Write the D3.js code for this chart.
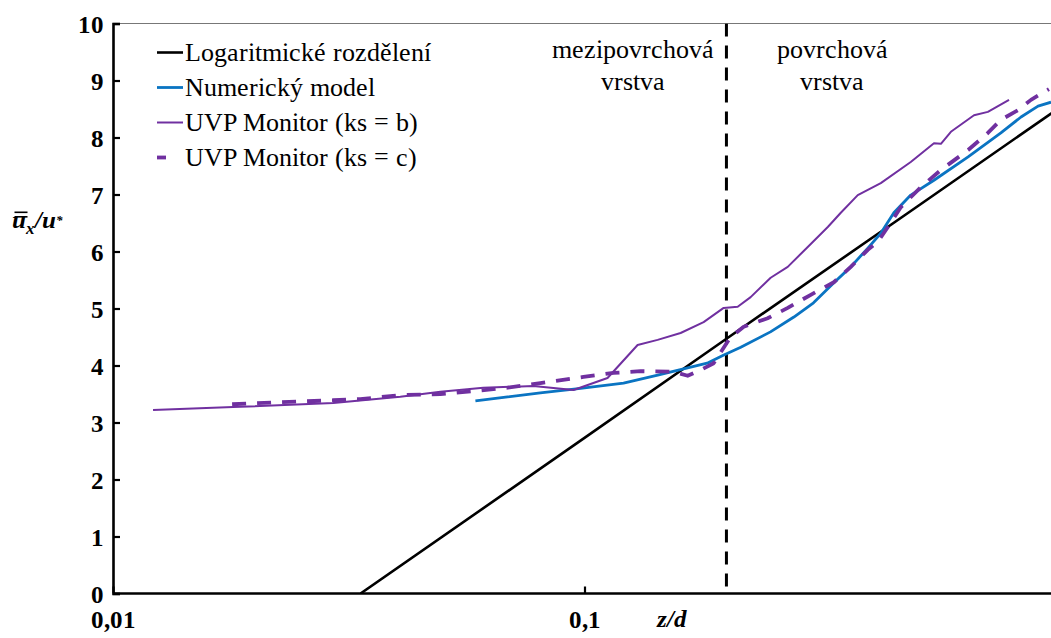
<!DOCTYPE html>
<html>
<head>
<meta charset="utf-8">
<script src="https://cdn.jsdelivr.net/npm/d3@7"></script>
<style>
  @font-face { font-family: "ChartSerif"; font-weight: 400; src: local("Liberation Serif"), local("LiberationSerif"); }
  @font-face { font-family: "ChartSerif"; font-weight: 700; src: local("Liberation Serif Bold"), local("LiberationSerif-Bold"); }
  @font-face { font-family: "ChartSerif"; font-weight: 700; font-style: italic; src: local("Liberation Serif Bold Italic"), local("LiberationSerif-BoldItalic"); }
  html, body { margin: 0; padding: 0; background: #fff; }
  svg { display: block; }
</style>
</head>
<body>
<svg id="chart" width="1051" height="638"></svg>
<script>
const logZ = [0.0335, 0.1, 0.2, 0.5, 1.0];
const logU = [0.0, 2.73, 4.47, 6.75, 8.48];

const numZ = [0.0587, 0.0687, 0.0806, 0.0981, 0.121, 0.143, 0.168, 0.182, 0.197, 0.2145,
              0.248, 0.278, 0.306, 0.338, 0.367, 0.399, 0.425, 0.453, 0.492, 0.551,
              0.651, 0.764, 0.843, 0.916, 0.976];
const numU = [3.38, 3.45, 3.52, 3.60, 3.69, 3.83, 3.97, 4.04, 4.18, 4.32,
              4.59, 4.85, 5.10, 5.45, 5.73, 6.06, 6.32, 6.68, 6.99, 7.25,
              7.66, 8.08, 8.36, 8.55, 8.62];

const uvpBZ = [0.01216, 0.01798, 0.02932, 0.04067, 0.04947, 0.0610, 0.0779, 0.0948, 0.1119, 0.1296,
               0.1429, 0.1599, 0.1789, 0.1973, 0.2113, 0.2251, 0.2482, 0.2698, 0.2975, 0.3281,
               0.3496, 0.3798, 0.425, 0.492, 0.551, 0.570, 0.5985, 0.670, 0.717, 0.795];
const uvpBU = [3.22, 3.27, 3.34, 3.45, 3.54, 3.61, 3.64, 3.57, 3.78, 4.36,
               4.45, 4.57, 4.76, 5.01, 5.03, 5.20, 5.54, 5.73, 6.08, 6.43,
               6.68, 6.99, 7.20, 7.57, 7.90, 7.89, 8.10, 8.39, 8.45, 8.66];

const uvpCZ = [0.01789, 0.02022, 0.02932, 0.03345, 0.04067, 0.04947, 0.0581, 0.0687, 0.0806, 0.0995,
               0.1152, 0.1315, 0.1545, 0.1655, 0.1763, 0.1879, 0.1973, 0.2042, 0.2176, 0.2446,
               0.2698, 0.3019, 0.3379, 0.3671, 0.3989, 0.419, 0.440, 0.469, 0.517, 0.570,
               0.651, 0.717, 0.764, 0.831, 0.885, 0.966];
const uvpCU = [3.32, 3.34, 3.39, 3.41, 3.48, 3.50, 3.55, 3.61, 3.69, 3.80,
               3.87, 3.90, 3.89, 3.82, 3.92, 4.04, 4.31, 4.50, 4.68, 4.83,
               5.01, 5.24, 5.46, 5.73, 6.03, 6.17, 6.43, 6.78, 7.13, 7.43,
               7.78, 8.08, 8.31, 8.48, 8.66, 8.85];

const xTicks = [0.01, 0.1];
const xTickLabels = ["0,01", "0,1"];
const yTicks = [0, 1, 2, 3, 4, 5, 6, 7, 8, 9, 10];
const boundaryZ = 0.2;

const legendNames = ["Logaritmické rozdělení", "Numerický model", "UVP Monitor (ks = b)", "UVP Monitor (ks = c)"];

const FONT = "ChartSerif, 'Liberation Serif', Tinos, 'Times New Roman', serif";

const svg = d3.select("#chart");
const margin = { left: 113, top: 23.5, right: 1056, bottom: 593.5 };

const x = d3.scaleLog().domain([0.01, 1]).range([margin.left, margin.right]);
const y = d3.scaleLinear().domain([0, 10]).range([margin.bottom, margin.top]);

svg.append("clipPath").attr("id", "plotClip")
  .append("rect")
  .attr("x", margin.left).attr("y", margin.top)
  .attr("width", margin.right - margin.left).attr("height", margin.bottom - margin.top);

// top frame line
svg.append("line")
  .attr("x1", margin.left).attr("x2", margin.right)
  .attr("y1", margin.top).attr("y2", margin.top)
  .attr("stroke", "#777").attr("stroke-width", 1.2);

const plot = svg.append("g").attr("clip-path", "url(#plotClip)");

// boundary between the two layers
plot.append("line")
  .attr("x1", x(boundaryZ)).attr("x2", x(boundaryZ))
  .attr("y1", margin.top).attr("y2", margin.bottom)
  .attr("stroke", "#000").attr("stroke-width", 3)
  .attr("stroke-dasharray", "13,9");

const line = d3.line().x(d => x(d[0])).y(d => y(d[1]));
const zip = (a, b) => a.map((v, i) => [v, b[i]]);

const series = [
  { data: zip(logZ, logU), color: "#000000", width: 2.6, dash: null },
  { data: zip(numZ, numU), color: "#0A74C2", width: 2.8, dash: null },
  { data: zip(uvpBZ, uvpBU), color: "#7030A0", width: 2, dash: null },
  { data: zip(uvpCZ, uvpCU), color: "#7030A0", width: 3.8, dash: "14,11" }
];

series.forEach(s => {
  plot.append("path")
    .attr("d", line(s.data))
    .attr("fill", "none")
    .attr("stroke", s.color)
    .attr("stroke-width", s.width)
    .attr("stroke-dasharray", s.dash)
    .attr("stroke-linejoin", "round");
});

// axes
const yAxis = d3.axisLeft(y).tickValues(yTicks).tickSize(-7).tickPadding(0).tickFormat(d3.format("d"));
const gy = svg.append("g").attr("transform", `translate(${margin.left},0)`).call(yAxis);
gy.attr("font-family", null).attr("font-size", null);
gy.select(".domain").attr("stroke", "#000").attr("stroke-width", 2.6);
gy.selectAll(".tick line").attr("stroke", "#000").attr("stroke-width", 2.2);
gy.selectAll(".tick text")
  .attr("x", -9).attr("dy", "0.34em").attr("fill", "#000")
  .style("font-family", FONT).style("font-size", "25px").style("font-weight", "700");

const xAxis = d3.axisBottom(x).tickValues(xTicks).tickSize(-7)
  .tickFormat((d, i) => xTickLabels[i]);
const gx = svg.append("g").attr("transform", `translate(0,${margin.bottom})`).call(xAxis);
gx.attr("font-family", null).attr("font-size", null);
gx.select(".domain").attr("stroke", "#000").attr("stroke-width", 2.6)
  .attr("d", `M${margin.left},0H${margin.right}`);
gx.selectAll(".tick line").attr("stroke", "#000").attr("stroke-width", 2.2);
gx.selectAll(".tick text")
  .attr("y", 0).attr("dy", "34px").attr("fill", "#000")
  .style("font-family", FONT).style("font-size", "25px").style("font-weight", "700");

// x axis title
svg.append("text")
  .attr("x", 672).attr("y", 627)
  .attr("text-anchor", "middle")
  .style("font-family", FONT).style("font-size", "25px")
  .style("font-weight", "700").style("font-style", "italic")
  .text("z/d");

// y axis title: double-barred u with subscripts
const yt = svg.append("g");
const ytText = yt.append("text")
  .attr("x", 12).attr("y", 228)
  .style("font-family", FONT).style("font-size", "25px")
  .style("font-weight", "700").style("font-style", "italic");
ytText.append("tspan").text("u");
ytText.append("tspan").attr("dy", 6).style("font-size", "17px").text("x");
ytText.append("tspan").attr("dy", -6).text("/u");
ytText.append("tspan").attr("dy", -3).style("font-size", "13px").text("*");
[212.3, 216.8].forEach(by => {
  yt.append("line")
    .attr("x1", 14.5).attr("x2", 27.5)
    .attr("y1", by).attr("y2", by)
    .attr("stroke", "#000").attr("stroke-width", 1.6);
});

// layer annotations
const layerLabels = [
  { z: 0.127, lines: ["mezipovrchová", "vrstva"] },
  { z: 0.335, lines: ["povrchová", "vrstva"] }
];
layerLabels.forEach(l => {
  l.lines.forEach((t, i) => {
    svg.append("text")
      .attr("x", x(l.z)).attr("y", 58 + i * 32)
      .attr("text-anchor", "middle")
      .style("font-family", FONT)
      .style("font-size", "26px")
      .text(t);
  });
});

// legend
const legend = svg.append("g");
series.forEach((s, i) => {
  const ly = 52.5 + i * 35;
  legend.append("line")
    .attr("x1", 157).attr("x2", s.dash ? 166 : 183)
    .attr("y1", ly).attr("y2", ly)
    .attr("stroke", s.color)
    .attr("stroke-width", s.dash ? 3.8 : s.width);
  legend.append("text")
    .attr("x", 185).attr("y", ly + 8)
    .style("font-family", FONT)
    .style("font-size", "26px")
    .text(legendNames[i]);
});
</script>
</body>
</html>
